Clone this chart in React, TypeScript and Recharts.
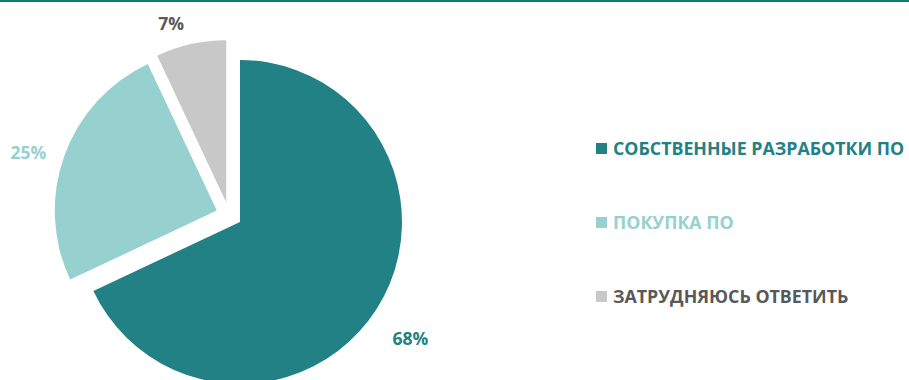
import { PieChart, Pie, Sector, Legend } from "recharts";

const CATEGORIES = ["СОБСТВЕННЫЕ РАЗРАБОТКИ ПО", "ПОКУПКА ПО", "ЗАТРУДНЯЮСЬ ОТВЕТИТЬ"];
const SHARES = [68, 25, 7];

const COLORS = ["#218184", "#96D1D0", "#C8C8C8"];
const TEXT_COLORS = ["#218184", "#96D1D0", "#595959"];
const FONT = "'Open Sans', Lato, sans-serif";
const RAD = Math.PI / 180;

// how far every slice is pulled out from the centre
const EXPLODE = 13;
// small nudges so the % labels sit where Excel put them
const LABEL_NUDGE = [[4, 10], [-3, 8], [-12, 13]];

const data = CATEGORIES.map((name, i) => ({ name, value: SHARES[i], fill: COLORS[i] }));

function ExplodedSector(props: any) {
    const { cx, cy, midAngle } = props;
    const dx = EXPLODE * Math.cos(-midAngle * RAD);
    const dy = EXPLODE * Math.sin(-midAngle * RAD);
    return <Sector {...props} cx={cx + dx} cy={cy + dy} stroke="none" />;
}

function renderLabel(props: any) {
    const { cx, cy, midAngle, index } = props;
    const r = 210;
    const x = cx + r * Math.cos(-midAngle * RAD) + LABEL_NUDGE[index][0];
    const y = cy + r * Math.sin(-midAngle * RAD) + LABEL_NUDGE[index][1];
    return (
        <text x={x} y={y} textAnchor="middle" dominantBaseline="central" fill={TEXT_COLORS[index]}
            fontFamily={FONT} fontSize={17.5} fontWeight={700}>
            {SHARES[index]}%
        </text>
    );
}

function renderLegend(props: any) {
    // keep the legend in category order
    const items = [...(props.payload || [])].sort(
        (a: any, b: any) => CATEGORIES.indexOf(a.value) - CATEGORIES.indexOf(b.value)
    );
    return (
        <div style={{ fontFamily: FONT, fontWeight: 700, fontSize: 17.8 }}>
            {items.map((p: any) => {
                const i = CATEGORIES.indexOf(p.value);
                return (
                    <div key={p.value} style={{ display: "flex", alignItems: "center", height: 22, marginBottom: 52 }}>
                        <span style={{ display: "inline-block", width: 11, height: 11, background: COLORS[i], marginRight: 6 }} />
                        <span style={{ color: TEXT_COLORS[i], whiteSpace: "nowrap" }}>{p.value}</span>
                    </div>
                );
            })}
        </div>
    );
}

export default function App() {
    return (
        <div style={{ position: "absolute", left: 0, top: 0, width: 909, height: 380, background: "#fff", overflow: "hidden" }}>
            <div style={{ position: "absolute", left: 0, top: 0, width: 909, height: 2, background: "#0E7C74" }} />
            <PieChart width={909} height={380} margin={{ top: 0, right: 0, bottom: 0, left: 0 }}>
                <Pie
                    data={data}
                    dataKey="value"
                    nameKey="name"
                    cx={229}
                    cy={215}
                    outerRadius={162}
                    startAngle={90}
                    endAngle={-270}
                    stroke="none"
                    shape={ExplodedSector}
                    label={renderLabel}
                    labelLine={false}
                    isAnimationActive={false}
                />
                <Legend
                    layout="vertical"
                    align="right"
                    verticalAlign="top"
                    content={renderLegend}
                    wrapperStyle={{ left: 596, top: 137, width: 313 }}
                />
            </PieChart>
        </div>
    );
}
